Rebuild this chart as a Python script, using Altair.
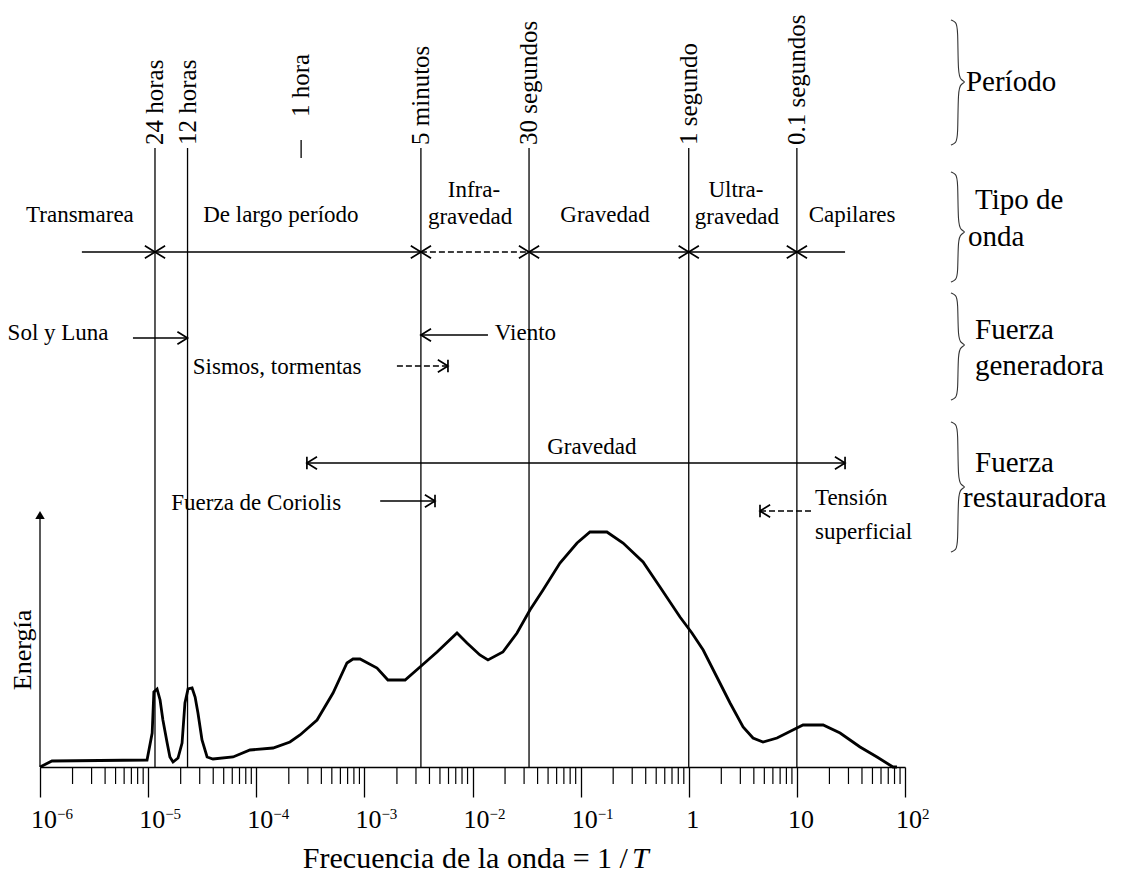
import altair as alt
import pandas as pd

# ---------------- data: energy spectrum (frequency in Hz, relative energy) ----------------
freq = [1.00e-6, 1.29e-6, 9.77e-6, 1.09e-5, 1.13e-5, 1.21e-5, 1.29e-5, 1.37e-5, 1.50e-5, 1.59e-5,
        1.70e-5, 1.89e-5, 2.06e-5, 2.19e-5, 2.34e-5, 2.55e-5, 2.72e-5, 2.89e-5, 3.15e-5, 3.51e-5,
        3.98e-5, 6.10e-5, 8.75e-5, 1.43e-4, 2.05e-4, 2.54e-4, 3.65e-4, 5.13e-4, 6.90e-4, 7.85e-4,
        9.12e-4, 1.31e-3, 1.65e-3, 2.13e-3, 2.38e-3, 3.27e-3, 4.70e-3, 7.19e-3, 8.89e-3, 1.17e-2,
        1.39e-2, 1.91e-2, 2.58e-2, 3.40e-2, 4.49e-2, 6.44e-2, 9.27e-2, 0.122, 0.175, 0.247,
        0.378, 0.542, 0.830, 1.07, 1.36, 1.82, 2.41, 3.18, 3.93, 4.86,
        6.55, 10.0, 11.4, 17.5, 25.1, 38.4, 55.1, 77.4, 84.3]
energy = [0, 6, 7, 34, 75, 78, 67, 47, 24, 10,
          5, 9, 24, 64, 78, 79, 70, 54, 27, 10,
          8, 10, 17, 19, 25, 32, 47, 74, 104, 108,
          108, 99, 87, 87, 87, 100, 115, 134, 124, 112,
          107, 115, 134, 157, 177, 204, 224, 235, 235, 224,
          205, 180, 150, 134, 117, 90, 64, 40, 29, 25,
          29, 39, 42, 42, 34, 20, 10, 0, 0]

# periods (seconds) marked with vertical lines
period_s = [86400, 43200, 300, 30, 1, 0.1]
period_labels = ["24 horas", "12 horas", "5 minutos", "30 segundos", "1 segundo", "0.1 segundos"]
hour_freq = 2.6e-4            # "1 hora" marker position as drawn
hour_label = "1 hora"

# x axis decades and labels
decades = [1e-6, 1e-5, 1e-4, 1e-3, 1e-2, 1e-1, 1, 10, 100]
dec_base = ["10", "10", "10", "10", "10", "10", "1", "10", "10"]
dec_sup = ["−6", "−5", "−4", "−3", "−2", "−1", "", "", "2"]
minor = [k * 10.0 ** d for d in range(-6, 2) for k in range(2, 10)]

# wave-type boundaries (arrow meeting points)
bounds = [1 / 86400, 1 / 300, 1 / 30, 1, 10]

# annotation texts
center_labels = ["Transmarea", "De largo período", "Infra-", "gravedad", "Gravedad", "Ultra-",
                 "gravedad", "Capilares", "Sol y Luna", "Sismos, tormentas", "Gravedad",
                 "Fuerza de Coriolis"]
center_x = [2.34e-6, 1.69e-4, 1.03e-2, 9.5e-3, 0.168, 2.73, 2.79, 32.4, 1.47e-6, 1.56e-4, 0.127, 1.0e-4]
center_y = [552, 552, 577, 550, 552, 577, 550, 552, 434, 400, 320, 264]
left_labels = ["Viento", "Tensión", "superficial"]
left_x = [1.61e-2, 14.7, 14.7]
left_y = [434, 269, 235]

right_labels = ["Período", "Tipo de", "onda", "Fuerza", "generadora", "Fuerza", "restauradora"]
right_x = [366, 444, 383, 444, 444, 444, 344]
right_y = [685, 567, 530, 437, 401, 304, 269]

# braces: (top, tip, bottom) levels
braces = [(747, 685, 622), (595, 535, 485), (474, 422, 367), (345, 280, 215)]

# arrows: (from, to, level)
solid_arrows = [(2.44e-6, 1 / 300, 515), (1 / 30, 27.9, 515), (7.24e-6, 1 / 43200, 429),
                (1 / 300, 1.39e-2, 432), (2.94e-4, 27.9, 304), (1.40e-3, 4.5e-3, 266)]
dashed_arrows = [(1 / 300, 1 / 30, 515), (2.0e-3, 5.93e-3, 401), (4.56, 13.8, 256)]
heads = ([(b, 515, "R") for b in bounds] + [(b, 515, "L") for b in bounds] +
         [(1 / 43200, 429, "R"), (1 / 300, 432, "L"), (5.93e-3, 401, "RB"),
          (2.94e-4, 304, "LB"), (27.9, 304, "RB"), (4.5e-3, 266, "RB"), (4.56, 256, "LB")])

# ---------------- chart ----------------
FONT = "Liberation Serif"
XS = alt.Scale(type="log", domain=[1e-6, 100], nice=False)
YS = alt.Scale(domain=[0, 757], nice=False, zero=False)
XAX = alt.Axis(values=decades, labels=False, tickSize=30, tickWidth=1.3, tickColor="black",
               domainColor="black", domainWidth=1.3, grid=False, title=None)


def X(f="f"):
    return alt.X(f"{f}:Q", scale=XS, axis=XAX)


def Y(f="v"):
    return alt.Y(f"{f}:Q", scale=YS, axis=None)


curve_df = pd.DataFrame({"f": freq, "v": energy})
curve = alt.Chart(curve_df).mark_line(color="black", strokeWidth=2.8).encode(x=X(), y=Y())

vlines_df = pd.DataFrame({"f": [1 / p for p in period_s], "v": 0, "v2": 619, "t": period_labels})
vlines = alt.Chart(vlines_df).mark_rule(color="black", strokeWidth=1.3).encode(
    x=X(), y=Y(), y2=alt.Y2("v2"))
vlabels = alt.Chart(vlines_df.assign(v=622)).mark_text(
    angle=270, align="left", baseline="middle", font=FONT, fontSize=25, color="black").encode(
    x=X(), y=Y(), text="t:N")

hour_df = pd.DataFrame({"f": [hour_freq], "v": [609], "v2": [627], "vt": [650], "t": [hour_label]})
hour_tick = alt.Chart(hour_df).mark_rule(color="black", strokeWidth=1.3).encode(
    x=X(), y=Y(), y2=alt.Y2("v2"))
hour_text = alt.Chart(hour_df).mark_text(
    angle=270, align="left", baseline="middle", font=FONT, fontSize=25, color="black").encode(
    x=X(), y=Y("vt"), text="t:N")

minor_df = pd.DataFrame({"f": minor, "v": 0, "v2": -17})
minor_ticks = alt.Chart(minor_df).mark_rule(color="black", strokeWidth=1.2).encode(
    x=X(), y=Y(), y2=alt.Y2("v2"))

dec_df = pd.DataFrame({"f": decades, "b": dec_base, "s": dec_sup, "v": -61, "vs": -52})
dec_base_txt = alt.Chart(dec_df).mark_text(
    align="center", baseline="alphabetic", dx=4, font=FONT, fontSize=26, color="black").encode(
    x=X(), y=Y(), text="b:N")
dec_sup_txt = alt.Chart(dec_df).mark_text(
    align="left", baseline="alphabetic", dx=17, font=FONT, fontSize=15, color="black").encode(
    x=X(), y=Y("vs"), text="s:N")

title_df = pd.DataFrame({"f": [0.274], "f2": [0.298], "v": [-101],
                         "t": ["Frecuencia de la onda = 1 /"], "t2": ["T"]})
title_a = alt.Chart(title_df).mark_text(
    align="right", baseline="alphabetic", font=FONT, fontSize=30, color="black").encode(
    x=X(), y=Y(), text="t:N")
title_b = alt.Chart(title_df).mark_text(
    align="left", baseline="alphabetic", font=FONT, fontSize=30, fontStyle="italic",
    color="black").encode(x=X("f2"), y=Y(), text="t2:N")

yaxis_df = pd.DataFrame({"f": [1e-6], "v": [0], "v2": [252], "fe": [7.0e-7], "ve": [117],
                         "t": ["Energía"]})
yaxis_line = alt.Chart(yaxis_df).mark_rule(color="black", strokeWidth=1.3).encode(
    x=X(), y=Y(), y2=alt.Y2("v2"))
yaxis_head = alt.Chart(yaxis_df).mark_point(
    shape="triangle-up", filled=True, size=90, color="black", opacity=1).encode(x=X(), y=Y("v2"))
yaxis_text = alt.Chart(yaxis_df).mark_text(
    angle=270, align="center", baseline="middle", font=FONT, fontSize=26, color="black").encode(
    x=X("fe"), y=Y("ve"), text="t:N")

ctext_df = pd.DataFrame({"f": center_x, "v": center_y, "t": center_labels})
ctext = alt.Chart(ctext_df).mark_text(
    align="center", baseline="middle", font=FONT, fontSize=23, color="black").encode(
    x=X(), y=Y(), text="t:N")
ltext_df = pd.DataFrame({"f": left_x, "v": left_y, "t": left_labels})
ltext = alt.Chart(ltext_df).mark_text(
    align="left", baseline="middle", font=FONT, fontSize=23, color="black").encode(
    x=X(), y=Y(), text="t:N")
rtext_df = pd.DataFrame({"f": right_x, "v": right_y, "t": right_labels})
rtext = alt.Chart(rtext_df).mark_text(
    align="left", baseline="middle", font=FONT, fontSize=29, color="black").encode(
    x=X(), y=Y(), text="t:N")

# braces built from (top, tip, bottom)
bx_curl, bx_mid, bx_v, bx_in, bx_tip = 266, 296, 309, 330, 367
brace_rows = []
for i, (T, M, B) in enumerate(braces):
    pts = [(bx_curl, T), (bx_mid, T - 2), (bx_v, T - 8), (bx_v, M + 7), (bx_in, M + 2),
           (bx_tip, M), (bx_in, M - 2), (bx_v, M - 7), (bx_v, B + 8), (bx_mid, B + 2),
           (bx_curl, B)]
    for j, (fx, vy) in enumerate(pts):
        brace_rows.append({"f": fx, "v": vy, "g": i, "o": j})
brace = alt.Chart(pd.DataFrame(brace_rows)).mark_line(
    color="#333333", strokeWidth=1.1, interpolate="basis").encode(
    x=X(), y=Y(), detail="g:N", order="o:Q")

sa_df = pd.DataFrame(solid_arrows, columns=["f", "f2", "v"])
sa = alt.Chart(sa_df).mark_rule(color="black", strokeWidth=1.3).encode(
    x=X(), x2=alt.X2("f2"), y=Y())
da_df = pd.DataFrame(dashed_arrows, columns=["f", "f2", "v"])
da = alt.Chart(da_df).mark_rule(color="black", strokeWidth=1.3, strokeDash=[6, 3]).encode(
    x=X(), x2=alt.X2("f2"), y=Y())

R = "M-1.6,-1L0,0L-1.6,1"
L = "M1.6,-1L0,0L1.6,1"
heads_df = pd.DataFrame(heads, columns=["f", "v", "k"])
hd = alt.Chart(heads_df).mark_point(
    filled=False, color="black", strokeWidth=1.7, size=160, opacity=1).encode(
    x=X(), y=Y(),
    shape=alt.Shape("k:N", scale=alt.Scale(domain=["R", "L", "RB", "LB"],
                                           range=[R, L, R + "M0,-1L0,1", L + "M0,-1L0,1"]),
                    legend=None))

chart = alt.layer(
    minor_ticks, vlines, hour_tick, sa, da, hd, curve, yaxis_line, yaxis_head,
    vlabels, hour_text, dec_base_txt, dec_sup_txt, title_a, title_b, yaxis_text,
    ctext, ltext, rtext, brace
).properties(
    width=865, height=757,
    padding={"left": 32, "top": 2, "right": 216, "bottom": 108},
    autosize=alt.AutoSizeParams(type="none"),
    background="white",
).configure_view(stroke=None)

chart.save("out.html", embed_options={"renderer": "svg", "actions": False})
